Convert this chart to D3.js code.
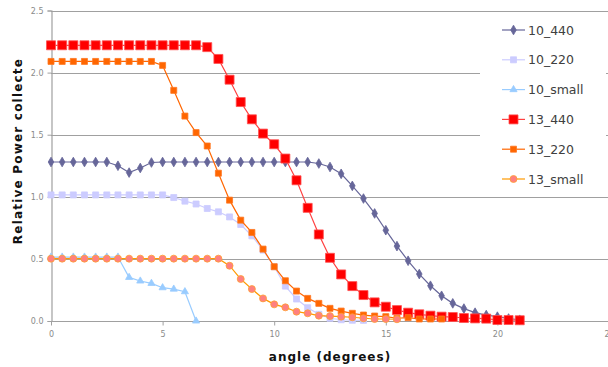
<!DOCTYPE html>
<html><head><meta charset="utf-8">
<script src="https://cdn.jsdelivr.net/npm/d3@7"></script>
<style>body{margin:0;background:#fff}svg{display:block}</style>
</head><body>
<svg id="c" width="608" height="367"></svg>
<script>
const seriesNames = ["10_440","10_220","10_small","13_440","13_220","13_small"];
const xTicks = [0,5,10,15,20,25];
const yTicks = [0,0.5,1,1.5,2,2.5];

const x_10_440 = [0,0.5,1,1.5,2,2.5,3,3.5,4,4.5,5,5.5,6,6.5,7,7.5,8,8.5,9,9.5,10,10.5,11,11.5,12,12.5,13,13.5,14,14.5,15,15.5,16,16.5,17,17.5,18,18.5,19,19.5,20,20.5,21];
const y_10_440 = [1.28,1.28,1.28,1.28,1.28,1.28,1.25,1.195,1.232,1.276,1.28,1.28,1.28,1.28,1.28,1.28,1.28,1.28,1.28,1.28,1.28,1.28,1.28,1.28,1.268,1.24,1.185,1.088,0.986,0.866,0.731,0.603,0.485,0.378,0.284,0.203,0.142,0.10,0.067,0.048,0.035,0.02,0.01];

const x_10_220 = [0,0.5,1,1.5,2,2.5,3,3.5,4,4.5,5,5.5,6,6.5,7,7.5,8,8.5,9,9.5,10,10.5,11,11.5,12,12.5,13,13.5,14];
const y_10_220 = [1.015,1.015,1.015,1.015,1.015,1.015,1.015,1.015,1.015,1.015,1.015,0.994,0.965,0.942,0.906,0.879,0.838,0.777,0.686,0.571,0.437,0.281,0.177,0.107,0.054,0.022,0.01,0.006,0.005];

const x_10_small = [0,0.5,1,1.5,2,2.5,3,3.5,4,4.5,5,5.5,6,6.5];
const y_10_small = [0.515,0.515,0.515,0.515,0.515,0.515,0.515,0.351,0.322,0.303,0.268,0.257,0.236,0.0];

const x_13_440 = [0,0.5,1,1.5,2,2.5,3,3.5,4,4.5,5,5.5,6,6.5,7,7.5,8,8.5,9,9.5,10,10.5,11,11.5,12,12.5,13,13.5,14,14.5,15,15.5,16,16.5,17,17.5,18,18.5,19,19.5,20,20.5,21];
const y_13_440 = [2.22,2.22,2.22,2.22,2.22,2.22,2.22,2.22,2.22,2.22,2.22,2.22,2.22,2.22,2.205,2.11,1.943,1.763,1.624,1.509,1.423,1.308,1.133,0.911,0.697,0.509,0.375,0.281,0.209,0.150,0.115,0.088,0.067,0.054,0.043,0.035,0.032,0.024,0.021,0.019,0.008,0.008,0.006];

const x_13_220 = [0,0.5,1,1.5,2,2.5,3,3.5,4,4.5,5,5.5,6,6.5,7,7.5,8,8.5,9,9.5,10,10.5,11,11.5,12,12.5,13,13.5,14,14.5,15,15.5,16,16.5,17,17.5];
const y_13_220 = [2.09,2.09,2.09,2.09,2.09,2.09,2.09,2.09,2.09,2.09,2.058,1.857,1.65,1.517,1.409,1.19,0.973,0.812,0.713,0.579,0.437,0.324,0.241,0.182,0.142,0.102,0.080,0.062,0.048,0.040,0.035,0.022,0.027,0.016,0.016,0.016];

const x_13_small = [0,0.5,1,1.5,2,2.5,3,3.5,4,4.5,5,5.5,6,6.5,7,7.5,8,8.5,9,9.5,10,10.5,11,11.5,12,12.5,13,13.5,14,14.5,15,15.5];
const y_13_small = [0.502,0.502,0.502,0.502,0.502,0.502,0.502,0.502,0.502,0.502,0.502,0.502,0.502,0.502,0.502,0.502,0.445,0.338,0.257,0.182,0.134,0.110,0.075,0.062,0.043,0.040,0.035,0.030,0.022,0.016,0.016,0.014];

const styles = [
  {line:"#666699", fill:"#666699", stroke:"#666699", shape:"diamond", size:7},
  {line:"#ccccff", fill:"#ccccff", stroke:"#ccccff", shape:"square", size:6},
  {line:"#99ccff", fill:"#99ccff", stroke:"#99ccff", shape:"triangle", size:7},
  {line:"#ff4040", fill:"#ff0000", stroke:"#ff5050", shape:"square", size:9},
  {line:"#ff6600", fill:"#ff6600", stroke:"#ff7722", shape:"square", size:6},
  {line:"#ff9900", fill:"#ff8080", stroke:"#ffa030", shape:"circle", size:7}
];
const xs = [x_10_440,x_10_220,x_10_small,x_13_440,x_13_220,x_13_small];
const ys = [y_10_440,y_10_220,y_10_small,y_13_440,y_13_220,y_13_small];

const svg = d3.select("#c");
const x = d3.scaleLinear().domain([0,25]).range([51,609]);
const y = d3.scaleLinear().domain([0,2.5]).range([321,10.5]);

// grid
svg.append("g").selectAll("line").data(yTicks.filter(d=>d>0)).join("line")
  .attr("x1",51).attr("x2",608).attr("y1",d=>Math.round(y(d))+0.5).attr("y2",d=>Math.round(y(d))+0.5)
  .attr("stroke","#a0a0a0").attr("stroke-width",1.2);

// axes
const ax = svg.append("g").attr("transform","translate(0,"+(Math.round(y(0))+0.5)+")")
  .call(d3.axisBottom(x).tickValues(xTicks).tickSize(4).tickPadding(6).tickFormat(d3.format("d")));
const ay = svg.append("g").attr("transform","translate("+(Math.round(x(0))+0.5)+",0)")
  .call(d3.axisLeft(y).tickValues(yTicks).tickSize(4).tickPadding(4));
[ax,ay].forEach(a=>{
  a.select(".domain").attr("stroke","#a0a0a0").attr("stroke-width",1.2);
  a.selectAll(".tick line").attr("stroke","#a0a0a0");
  a.selectAll("text").attr("fill","#8a8a8a").style("font-family","DejaVu Sans").style("font-size","8px");
});
ax.select(".domain").attr("d","M51,0H608");

function sym(shape,size){
  const t = {diamond:d3.symbolDiamond, square:d3.symbolSquare, triangle:d3.symbolTriangle, circle:d3.symbolCircle}[shape];
  let area;
  if(shape==="square") area = size*size;
  else if(shape==="circle") area = Math.PI*(size/2)*(size/2);
  else if(shape==="diamond") area = size*size*0.55;
  else area = size*size*0.45;
  return d3.symbol().type(t).size(area)();
}

const line = d3.line().x(d=>x(d[0])).y(d=>y(d[1]));
seriesNames.forEach((name,i)=>{
  const st = styles[i];
  const pts = xs[i].map((v,j)=>[v,ys[i][j]]);
  const g = svg.append("g");
  g.append("path").attr("d",line(pts)).attr("fill","none").attr("stroke",st.line).attr("stroke-width",1.2);
  g.selectAll("path.m").data(pts).join("path").attr("class","m")
    .attr("transform",d=>`translate(${x(d[0])},${y(d[1])})`)
    .attr("d",sym(st.shape,st.size)).attr("fill",st.fill).attr("stroke",st.stroke).attr("stroke-width",0.8);
});

// legend
const lg = svg.append("g");
lg.append("rect").attr("x",480).attr("y",15).attr("width",126).attr("height",178).attr("fill","#fff");
seriesNames.forEach((name,i)=>{
  const st = styles[i];
  const yy = 30 + i*29.8;
  lg.append("line").attr("x1",502).attr("x2",525).attr("y1",yy).attr("y2",yy).attr("stroke",st.line).attr("stroke-width",1.2);
  lg.append("path").attr("transform",`translate(513.5,${yy})`).attr("d",sym(st.shape,st.size))
    .attr("fill",st.fill).attr("stroke",st.stroke).attr("stroke-width",0.8);
  lg.append("text").attr("x",528).attr("y",yy+4.5).text(name)
    .attr("fill","#404040").style("font-family","DejaVu Sans").style("font-size","12.5px");
});

// titles
svg.append("text").attr("x",330).attr("y",361).attr("text-anchor","middle").text("angle (degrees)")
  .attr("fill","#111").style("font-family","DejaVu Sans").style("font-size","12px").style("font-weight","bold").style("letter-spacing","1px");
svg.append("text").attr("transform","translate(22,151) rotate(-90)").attr("text-anchor","middle").text("Relative Power collecte")
  .attr("fill","#111").style("font-family","DejaVu Sans").style("font-size","12px").style("font-weight","bold").style("letter-spacing","1.2px");
</script>
</body></html>
